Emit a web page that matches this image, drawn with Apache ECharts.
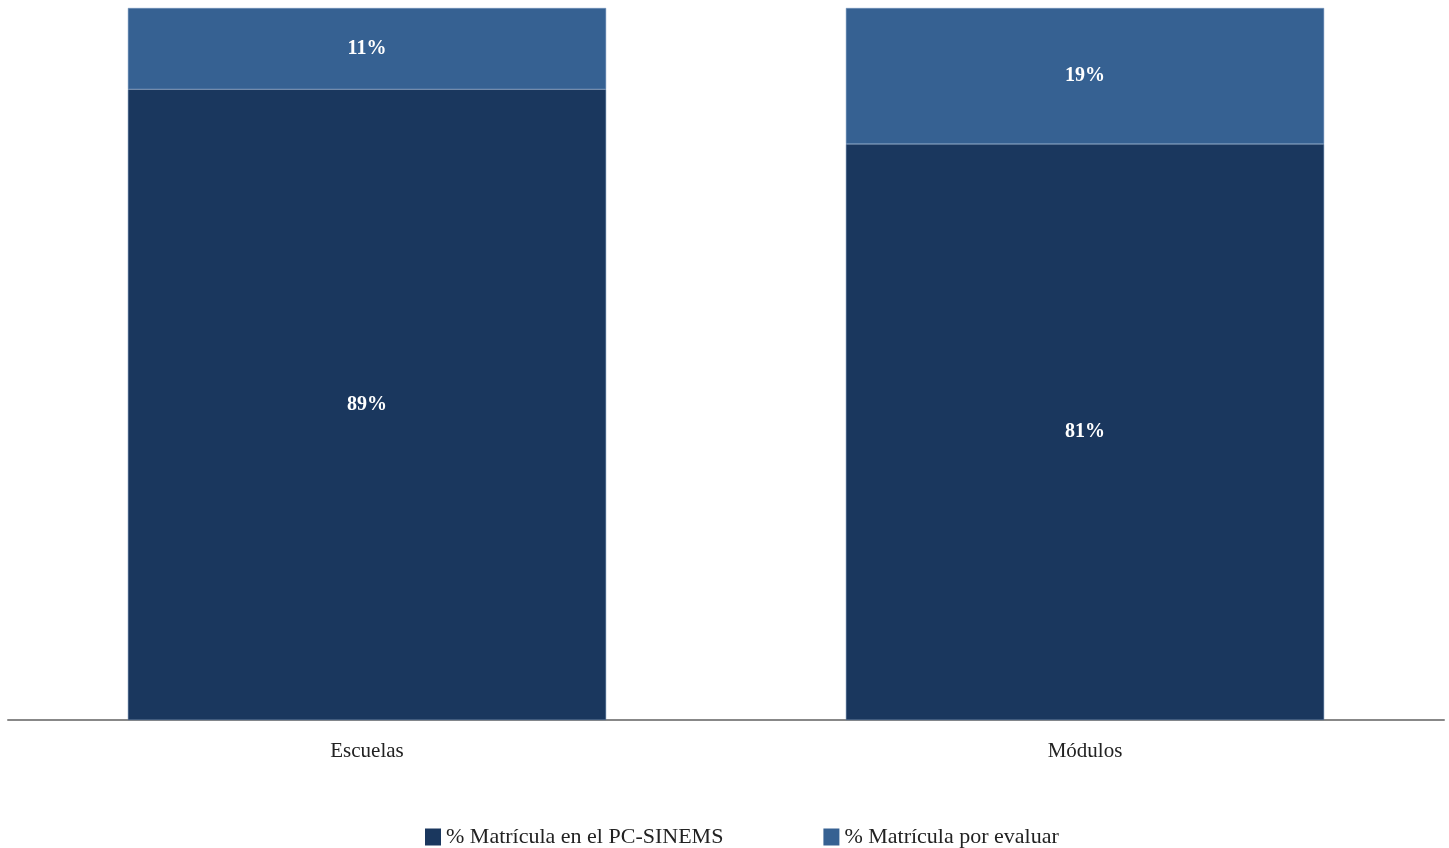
<!DOCTYPE html>
<html><head><meta charset="utf-8">
<script src="https://cdn.jsdelivr.net/npm/echarts@6/dist/echarts.min.js"></script>
<style>html,body{margin:0;padding:0;background:#fff}#c{width:1449px;height:848px}</style>
</head><body><div id="c"></div>
<script>
const categories = ['Escuelas', 'Módulos'];
const seriesNames = ['% Matrícula en el PC-SINEMS', '% Matrícula por evaluar'];
const enSinems = [88.6, 80.9];
const porEvaluar = [11.4, 19.1];
const colors = ['#1a375e', '#366192'];
const font = '"Liberation Serif", "DejaVu Serif", serif';
const chart = echarts.init(document.getElementById('c'));
const lbl = {show: true, position: 'inside', color: '#fff', fontWeight: 'bold', fontSize: 20, fontFamily: font,
  formatter: p => Math.round(p.value) + '%'};
chart.setOption({
  animation: false,
  textStyle: {fontFamily: font},
  grid: {left: 8, right: 5, top: 8, bottom: 128, containLabel: false},
  legend: {top: 821, left: 420, itemWidth: 16, itemHeight: 17, itemGap: 100,
    itemStyle: {borderWidth: 0},
    textStyle: {fontSize: 22, color: '#222', fontFamily: font, padding: [0, 0, 2, 0]},
    data: seriesNames.map(n => ({name: n, icon: 'rect'}))},
  xAxis: {type: 'category', data: categories,
    axisLine: {lineStyle: {color: '#888', width: 2}}, axisTick: {show: false},
    axisLabel: {fontSize: 21, color: '#222', margin: 21, fontFamily: font}},
  yAxis: {type: 'value', min: 0, max: 100, show: false, splitLine: {show: false}},
  series: [
    {name: seriesNames[0], type: 'bar', stack: 't', data: enSinems, barWidth: '66.6%',
      itemStyle: {color: colors[0], borderColor: '#5a7aa5', borderWidth: 0.5}, label: lbl},
    {name: seriesNames[1], type: 'bar', stack: 't', data: porEvaluar, barWidth: '66.6%',
      itemStyle: {color: colors[1], borderColor: '#6d8fb8', borderWidth: 0.5}, label: lbl}
  ]
});
</script></body></html>
